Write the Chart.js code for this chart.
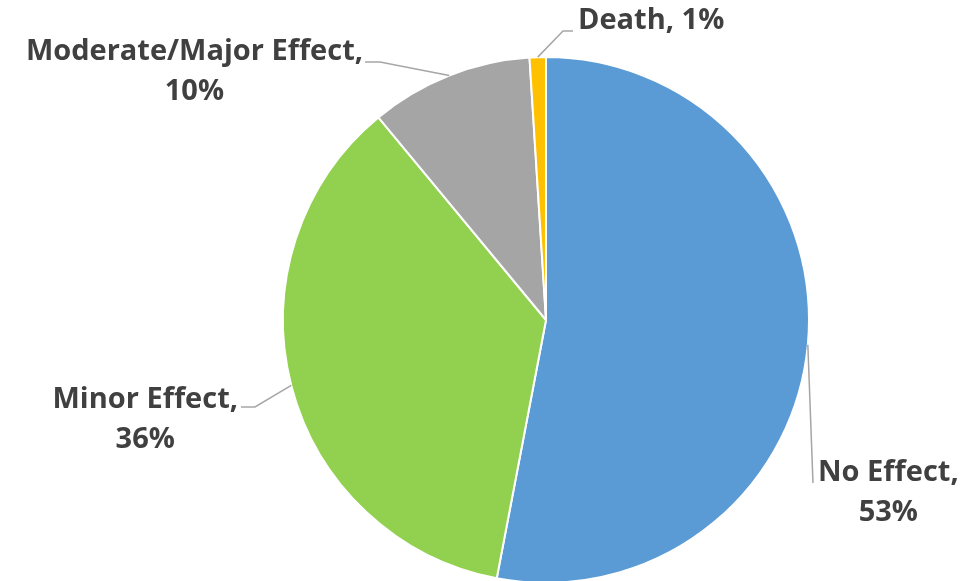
<!DOCTYPE html>
<html>
<head>
<meta charset="utf-8">
<script src="https://cdn.jsdelivr.net/npm/chart.js@4"></script>
<style>
  html, body { margin: 0; padding: 0; background: #fff; overflow: hidden; }
  #wrap { width: 961px; height: 581px; overflow: hidden; }
</style>
</head>
<body>
<div id="wrap"><canvas id="pieEfeito" width="961" height="600"></canvas></div>
<script>
// dados do grafico
const categorias = ['No Effect', 'Minor Effect', 'Moderate/Major Effect', 'Death'];
const valores = [53, 36, 10, 1];
const cores = ['#5B9BD5', '#92D050', '#A5A5A5', '#FFC000'];

// posicao dos rotulos (texto) e cotovelo da linha guia
const rotulos = [
    { x: 818, y: 473, align: 'left', elbow: [[813, 483]] },
    { x: 238, y: 400, align: 'right', elbow: [[255, 407], [241, 407]] },
    { x: 363, y: 52, align: 'right', elbow: [[380, 62], [365, 62]] },
    { x: 578, y: 21, align: 'left', elbow: [[563, 31], [573, 31]], oneLine: true }
];

const fonteRotulo = "bold 29px 'Open Sans', 'DejaVu Sans', sans-serif";

const pluginRotulos = {
    id: 'rotulos',
    afterDatasetsDraw(chart) {
        const ctx = chart.ctx;
        const arcs = chart.getDatasetMeta(0).data;
        ctx.save();
        arcs.forEach(function (arc, i) {
            const r = rotulos[i];
            const meio = (arc.startAngle + arc.endAngle) / 2;
            const ax = arc.x + Math.cos(meio) * arc.outerRadius;
            const ay = arc.y + Math.sin(meio) * arc.outerRadius;
            ctx.strokeStyle = '#A6A6A6';
            ctx.lineWidth = 1.5;
            ctx.beginPath();
            ctx.moveTo(ax, ay);
            r.elbow.forEach(function (p) { ctx.lineTo(p[0], p[1]); });
            ctx.stroke();

            ctx.fillStyle = '#404040';
            ctx.font = fonteRotulo;
            ctx.textBaseline = 'middle';
            const pct = valores[i] + '%';
            if (r.oneLine) {
                ctx.textAlign = r.align;
                ctx.fillText(categorias[i] + ', ' + pct, r.x, r.y);
            } else {
                const linha1 = categorias[i] + ',';
                const w = ctx.measureText(linha1).width;
                ctx.textAlign = 'center';
                const cx = r.align === 'left' ? r.x + w / 2 : r.x - w / 2;
                ctx.fillText(linha1, cx, r.y);
                ctx.fillText(pct, cx, r.y + 40);
            }
        });
        ctx.restore();
    }
};

const configPie = {
    type: 'pie',
    data: {
        labels: categorias,
        datasets: [{
            data: valores,
            backgroundColor: cores,
            borderColor: '#FFFFFF',
            borderWidth: 2
        }]
    },
    options: {
        responsive: false,
        animation: false,
        layout: {
            padding: { top: 56, bottom: 16, left: 282, right: 151 }
        },
        plugins: {
            legend: { display: false },
            tooltip: { enabled: false }
        }
    },
    plugins: [pluginRotulos]
};

new Chart(document.getElementById('pieEfeito').getContext('2d'), configPie);
</script>
</body>
</html>
